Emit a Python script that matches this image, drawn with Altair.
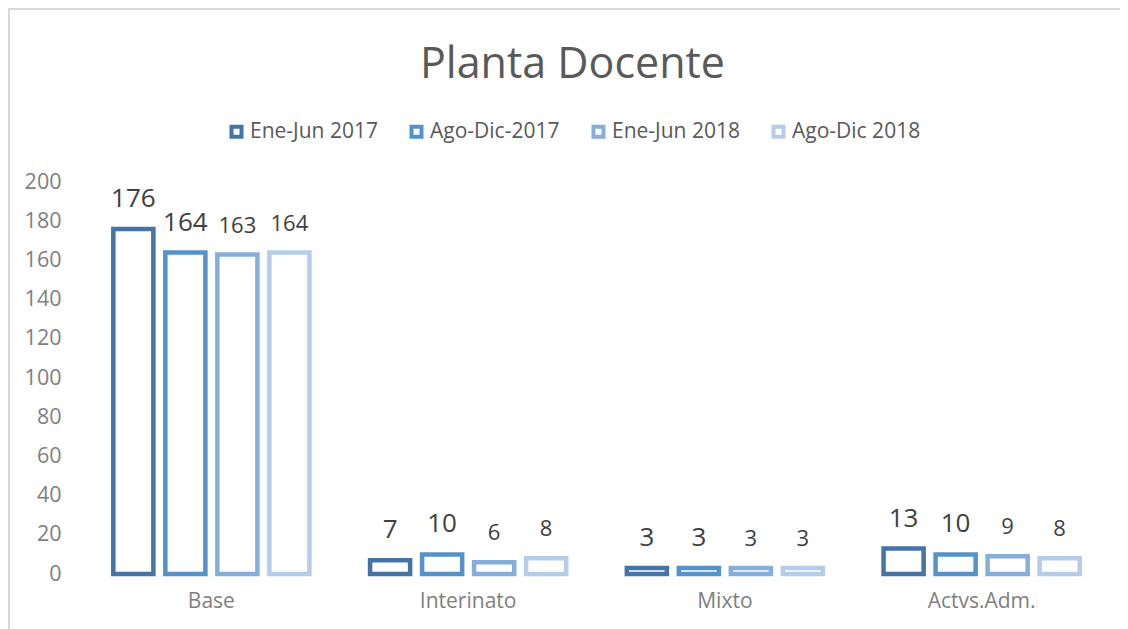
import altair as alt
import pandas as pd

categories = ["Base", "Interinato", "Mixto", "Actvs.Adm."]
series = ["Ene-Jun 2017", "Ago-Dic-2017", "Ene-Jun 2018", "Ago-Dic 2018"]
values = {
    "Ene-Jun 2017": [176, 7, 3, 13],
    "Ago-Dic-2017": [164, 10, 3, 10],
    "Ene-Jun 2018": [163, 6, 3, 9],
    "Ago-Dic 2018": [164, 8, 3, 8],
}
colors = ["#4674A8", "#5592CB", "#86AEDD", "#B5CDEB"]

rows = []
for s in series:
    for c, v in zip(categories, values[s]):
        rows.append({"categoria": c, "serie": s, "valor": v})
df = pd.DataFrame(rows)

FONT = "Open Sans"
W, H = 1027, 392

x_enc = alt.X("categoria:N", sort=categories, title=None,
              scale=alt.Scale(paddingInner=0, paddingOuter=0),
              axis=alt.Axis(labelFontSize=21, labelColor="#7f7f7f", labelFont=FONT,
                            ticks=False, domain=False, labelPadding=16, labelAngle=0))
xoff = alt.XOffset("serie:N", sort=series,
                   scale=alt.Scale(paddingInner=0.23, paddingOuter=0.583))
y_enc = alt.Y("valor:Q", title=None,
              scale=alt.Scale(domain=[0, 200], nice=False),
              axis=alt.Axis(values=list(range(0, 201, 20)), labelFontSize=21.5,
                            labelColor="#7f7f7f", labelFont=FONT, ticks=False,
                            domain=False, grid=False, labelPadding=22))

base = alt.Chart(df)

bars = base.mark_bar(fill="white", strokeWidth=4.5).encode(
    x=x_enc, xOffset=xoff, y=y_enc,
    stroke=alt.Stroke("serie:N", sort=series,
                      scale=alt.Scale(domain=series, range=colors),
                      legend=alt.Legend(title=None, orient="none", direction="horizontal",
                                        legendX=143, legendY=-61,
                                        symbolType="square", symbolSize=100,
                                        symbolStrokeWidth=4, symbolFillColor="white",
                                        labelFontSize=21, labelColor="#595959",
                                        labelFont=FONT, labelOffset=3,
                                        columnPadding=25)),
)

labels = base.mark_text(baseline="bottom", dy=-17, color="#404040", font=FONT).encode(
    x=x_enc, xOffset=xoff, y=y_enc,
    text=alt.Text("valor:Q"),
    size=alt.condition(alt.FieldOneOfPredicate(field="serie", oneOf=series[:2]),
                       alt.value(26), alt.value(22)),
)

border_top = alt.Chart(pd.DataFrame({"a": [0]})).mark_rule(color="#d9d9d9", strokeWidth=2).encode(
    x=alt.value(-75), x2=alt.value(W + 10), y=alt.value(-173))
border_left = alt.Chart(pd.DataFrame({"a": [0]})).mark_rule(color="#d9d9d9", strokeWidth=2).encode(
    x=alt.value(-74), y=alt.value(-173), y2=alt.value(H + 60))

chart = alt.layer(border_top, border_left, bars, labels).properties(
    width=W, height=H,
    autosize=alt.AutoSizeParams(type="none"),
    padding={"left": 75, "top": 174, "right": 10, "bottom": 55},
    title=alt.TitleParams("Planta Docente", fontSize=43, font=FONT, color="#595959",
                          fontWeight="normal", anchor="middle", offset=-79, dx=-24),
).configure_view(stroke=None)

chart.save("out.html", embed_options={"renderer": "svg", "actions": False})
